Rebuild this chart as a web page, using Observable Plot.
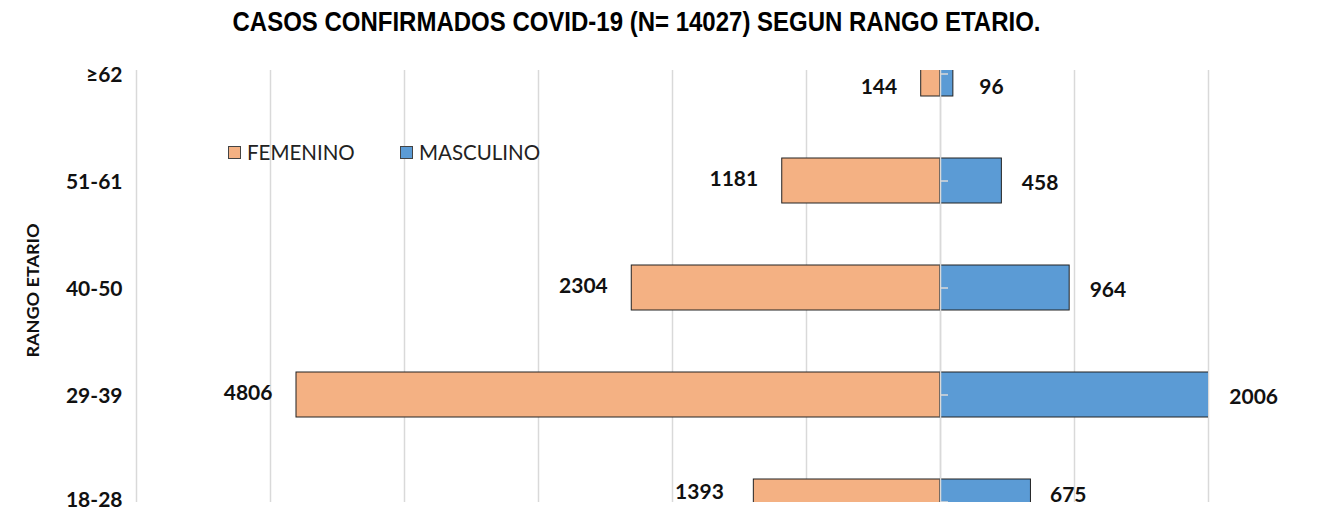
<!DOCTYPE html>
<html>
<head>
<meta charset="utf-8">
<script src="https://cdn.jsdelivr.net/npm/d3@7"></script>
<script src="https://cdn.jsdelivr.net/npm/@observablehq/plot@0.6"></script>
<style>
  html, body { margin: 0; padding: 0; background: #fff; }
  #wrap { position: relative; width: 1317px; height: 512px; }
  .legend { position: absolute; top: 140px; font-family: Lato, "Open Sans", sans-serif; font-size: 20.5px; color: #222; display: flex; align-items: center; }
  .legend .sw { width: 13px; height: 13px; border: 1px solid #444; margin-right: 6px; box-sizing: border-box; }
</style>
</head>
<body>
<div id="wrap"></div>
<script>
const title = "CASOS CONFIRMADOS COVID-19 (N= 14027) SEGUN RANGO ETARIO.";
const yTitle = "RANGO ETARIO";
const categories = ["≥62", "51-61", "40-50", "29-39", "18-28"];
const femenino = [144, 1181, 2304, 4806, 1393];
const masculino = [96, 458, 964, 2006, 675];
const seriesNames = ["FEMENINO", "MASCULINO"];
const colors = ["#F4B183", "#5B9BD5"];
const gridTicks = [-6000, -5000, -4000, -3000, -2000, -1000, 0, 1000, 2000];

const rows = categories.map((c, i) => ({cat: c, f: femenino[i], m: masculino[i], i}));
const last = categories.length - 1;
const font = "Lato, 'Open Sans', sans-serif";
const vs = 21;

const chart = Plot.plot({
  width: 1317,
  height: 512,
  marginLeft: 136,
  marginRight: 109,
  marginTop: 70,
  marginBottom: 10,
  style: {background: "#fff", fontFamily: font},
  x: {domain: [-6000, 2000], axis: null},
  y: {domain: categories, range: [18.25, 555.75], paddingInner: 0.581, paddingOuter: 0.2905, axis: null},
  marks: [
    Plot.ruleX(gridTicks, {x: d => d, stroke: "#d9d9d9", strokeWidth: 1.5}),
    Plot.barX(rows, {y: "cat", x1: d => -d.f, x2: 0, fill: colors[0], stroke: "#222", strokeWidth: 1, clip: true}),
    Plot.barX(rows, {y: "cat", x1: 0, x2: "m", fill: colors[1], stroke: "#222", strokeWidth: 1, clip: true}),
    Plot.ruleX([0], {stroke: "#d9d9d9", strokeWidth: 1.5}),
    Plot.ruleY(rows, {y: "cat", x1: 0, x2: 60, stroke: "#d9d9d9", strokeWidth: 1.5, clip: true}),
    // value labels
    Plot.text(rows.filter(d => d.i === 0), {y: "cat", x: d => -d.f, text: d => String(d.f), textAnchor: "end", dx: -24, dy: 13, fontSize: vs, fontWeight: "bold", fill: "#111"}),
    Plot.text(rows.filter(d => d.i > 0 && d.i < last), {y: "cat", x: d => -d.f, text: d => String(d.f), textAnchor: "end", dx: -24, dy: -2, fontSize: vs, fontWeight: "bold", fill: "#111"}),
    Plot.text(rows.filter(d => d.i === last), {y: "cat", x: d => -d.f, text: d => String(d.f), textAnchor: "end", dx: -30, dy: -10, fontSize: vs, fontWeight: "bold", fill: "#111"}),
    Plot.text(rows.filter(d => d.i === 0), {y: "cat", x: "m", text: d => String(d.m), textAnchor: "start", dx: 26, dy: 13, fontSize: vs, fontWeight: "bold", fill: "#111"}),
    Plot.text(rows.filter(d => d.i > 0 && d.i < last), {y: "cat", x: "m", text: d => String(d.m), textAnchor: "start", dx: 20, dy: 2, fontSize: vs, fontWeight: "bold", fill: "#111"}),
    Plot.text(rows.filter(d => d.i === last), {y: "cat", x: "m", text: d => String(d.m), textAnchor: "start", dx: 19, dy: -7, fontSize: vs, fontWeight: "bold", fill: "#111"}),
    // category labels
    Plot.text(rows.filter(d => d.i < last), {y: "cat", text: "cat", frameAnchor: "left", textAnchor: "end", dx: -14, dy: 1, fontSize: vs, fontWeight: "bold", fill: "#111"}),
    Plot.text(rows.filter(d => d.i === last), {y: "cat", text: "cat", frameAnchor: "left", textAnchor: "end", dx: -14, dy: -2, fontSize: vs, fontWeight: "bold", fill: "#111"}),
    // y title
    Plot.text([yTitle], {text: d => d, frameAnchor: "left", textAnchor: "middle", rotate: -90, dx: -103, dy: 4, fontSize: 17, fontWeight: "bold", fill: "#111", className: "ytitle"}),
    // title
    Plot.text([title], {text: d => d, frameAnchor: "top", dx: -36, dy: -59, fontSize: 28, fontWeight: "bold", fill: "#000", fontFamily: "'Liberation Sans Narrow', 'Liberation Sans', Arial, sans-serif", className: "ctitle"})
  ]
});

const wrap = document.getElementById("wrap");
wrap.appendChild(chart);
const t = chart.querySelector(".ctitle text");
if (t) { t.setAttribute("textLength", "808"); t.setAttribute("lengthAdjust", "spacingAndGlyphs"); }
const yt = chart.querySelector(".ytitle text");
if (yt) { yt.setAttribute("textLength", "134"); yt.setAttribute("lengthAdjust", "spacingAndGlyphs"); }

const legendX = [228, 400];
seriesNames.forEach((name, i) => {
  const el = document.createElement("div");
  el.className = "legend";
  el.style.left = legendX[i] + "px";
  const sw = document.createElement("div");
  sw.className = "sw";
  sw.style.background = colors[i];
  el.appendChild(sw);
  const tx = document.createElement("span");
  tx.textContent = name;
  el.appendChild(tx);
  wrap.appendChild(el);
});
</script>
</body>
</html>
